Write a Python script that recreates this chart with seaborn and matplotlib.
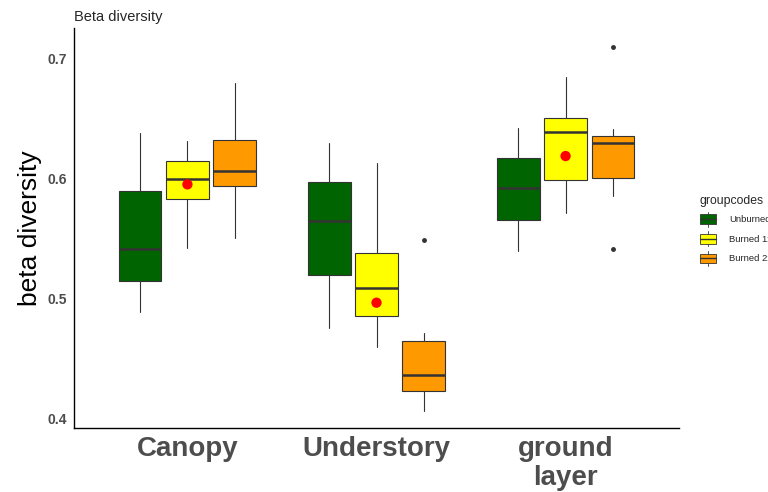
import numpy as np
import matplotlib
matplotlib.use("Agg")
import matplotlib.pyplot as plt
import seaborn as sns
from matplotlib.patches import Patch, Rectangle
from matplotlib.lines import Line2D
from matplotlib.legend_handler import HandlerBase

# Dados
strata = ["Canopy", "Understory", "ground\nlayer"]
groups = ["Unburned", "Burned 1x", "Burned 2x"]
group_colors = ["#006400", "#FFFF00", "#FF9900"]

# linhas = estratos, colunas = grupos
whis_lo = [[0.488, 0.542, 0.550], [0.475, 0.459, 0.406], [0.539, 0.571, 0.585]]
q1 = [[0.514, 0.5825, 0.593], [0.519, 0.485, 0.4225], [0.565, 0.598, 0.600]]
medians = [[0.541, 0.599, 0.606], [0.564, 0.5086, 0.436], [0.592, 0.6386, 0.6294]]
q3 = [[0.589, 0.6144, 0.6317], [0.5964, 0.5378, 0.4644], [0.6164, 0.650, 0.6353]]
whis_hi = [[0.6375, 0.631, 0.679], [0.629, 0.6122, 0.4706], [0.6419, 0.6839, 0.6408]]
outliers = [[[], [], []], [[], [], [0.5486]], [[], [], [0.7094, 0.5411]]]

# média (ponto vermelho) só aparece no grupo do meio
mean_vals = [0.5947, 0.4961, 0.6183]

sns.set_theme(style="white")
plt.rcParams["font.family"] = ["Liberation Sans", "DejaVu Sans"]

fig = plt.figure(figsize=(7.68, 4.92), dpi=100)
ax = fig.add_axes([74 / 768, 64 / 492, 605 / 768, 400 / 492])

dodge = [-0.25, 0.0, 0.25]
edge = "#333333"
for i in range(len(strata)):
    for j in range(len(groups)):
        st = {
            "whislo": whis_lo[i][j], "q1": q1[i][j], "med": medians[i][j],
            "q3": q3[i][j], "whishi": whis_hi[i][j], "fliers": outliers[i][j],
        }
        ax.bxp([st], positions=[i + dodge[j]], widths=0.225, patch_artist=True,
               showcaps=False, manage_ticks=False,
               boxprops=dict(facecolor=group_colors[j], edgecolor=edge, linewidth=0.8),
               whiskerprops=dict(color=edge, linewidth=0.8),
               medianprops=dict(color=edge, linewidth=1.8),
               flierprops=dict(marker="o", markersize=2.5, markerfacecolor=edge,
                               markeredgecolor=edge))

sns.scatterplot(x=np.arange(len(strata)), y=mean_vals, color="red", s=55,
                edgecolor="none", ax=ax, zorder=5, legend=False)

ax.set_xlim(-0.6, 2.6)
ax.set_ylim(0.3917, 0.725)
ax.set_xticks(range(len(strata)))
ax.set_xticklabels(strata, fontsize=20, fontweight="bold", color="#4D4D4D",
                   linespacing=1.15)
ax.set_yticks([0.4, 0.5, 0.6, 0.7])
ax.set_yticklabels(["0.4", "0.5", "0.6", "0.7"], fontsize=10, fontweight="bold",
                   color="#4D4D4D")
ax.tick_params(axis="both", length=3, width=0.8, color="#333333", pad=2)
ax.tick_params(axis="x", pad=3)
ax.set_ylabel("beta diversity", fontsize=19, color="black", labelpad=4)
ax.set_xlabel("")
ax.set_title("Beta diversity", loc="left", fontsize=10.5, pad=5)
sns.despine(ax=ax)
for s in ["left", "bottom"]:
    ax.spines[s].set_color("black")
    ax.spines[s].set_linewidth(1.0)


class BoxKey(HandlerBase):
    def create_artists(self, legend, orig_handle, xdescent, ydescent, width,
                       height, fontsize, trans):
        fc = orig_handle.get_facecolor()
        x0, y0 = -xdescent, -ydescent
        vline = Line2D([x0 + width / 2] * 2, [y0, y0 + height], color=edge,
                       lw=0.6, transform=trans)
        rect = Rectangle((x0, y0 + height * 0.18), width, height * 0.64,
                         facecolor=fc, edgecolor=edge, lw=0.6, transform=trans)
        mline = Line2D([x0, x0 + width], [y0 + height / 2] * 2, color=edge,
                       lw=1.0, transform=trans)
        return [vline, rect, mline]


handles = [Patch(facecolor=c, label=g) for c, g in zip(group_colors, groups)]
leg = fig.legend(handles=handles, title="groupcodes", loc="upper left",
                 bbox_to_anchor=(700 / 768, 1 - 195 / 492), frameon=False,
                 fontsize=6.8, title_fontsize=8.8, handlelength=1.65,
                 handleheight=2.05, labelspacing=0.5, handletextpad=1.45,
                 borderpad=0, borderaxespad=0,
                 handler_map={Patch: BoxKey()})
leg._legend_box.align = "left"

fig.savefig("out.png", dpi=100)
